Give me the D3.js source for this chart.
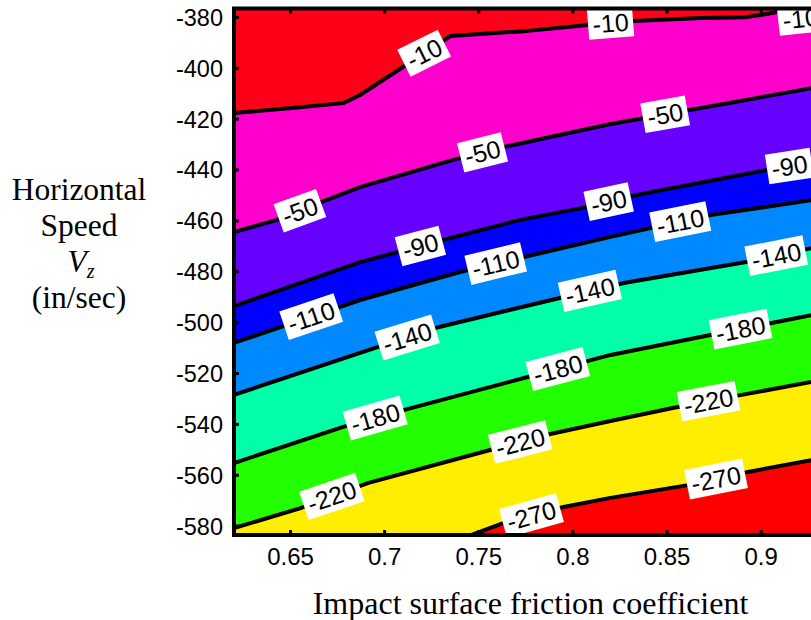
<!DOCTYPE html>
<html><head><meta charset="utf-8">
<script src="https://cdn.jsdelivr.net/npm/d3@7"></script>
<style>body{margin:0;background:#fff;overflow:hidden} svg{display:block}</style>
</head><body>
<svg id="chart" width="811" height="620"></svg>
<script>
// ---- data (friction coefficient, horizontal speed) ----
const levels = [-10, -50, -90, -110, -140, -180, -220, -270];
const contourM10 = [[0.62,-417.6],[0.651,-415.6],[0.678,-413.7],[0.687,-410.5],[0.735,-387.3],[0.776,-385.3],[0.808,-383.0],[0.832,-381.4],[0.868,-380.2],[0.892,-379.9],[0.906,-378.3],[0.921,-375.1]];
const contourM50 = [[0.62,-464.4],[0.643,-459.6],[0.669,-451.8],[0.687,-446.7],[0.736,-436.1],[0.763,-431.0],[0.820,-421.9],[0.862,-416.4],[0.927,-407.8],[0.935,-406.6]];
const contourM90 = [[0.62,-493.5],[0.687,-476.2],[0.731,-467.5],[0.772,-459.6],[0.808,-454.5],[0.831,-450.2],[0.903,-440.0],[0.927,-436.9],[0.935,-435.8]];
const contourM110 = [[0.62,-508.0],[0.687,-491.1],[0.740,-480.1],[0.774,-474.2],[0.820,-466.3],[0.873,-457.7],[0.927,-451.8],[0.935,-450.6]];
const contourM140 = [[0.62,-528.4],[0.687,-511.9],[0.729,-501.7],[0.793,-490.3],[0.827,-484.4],[0.892,-476.2],[0.927,-470.7],[0.935,-469.4]];
const contourM180 = [[0.62,-555.2],[0.678,-541.0],[0.710,-534.4],[0.776,-521.4],[0.820,-512.7],[0.873,-504.9],[0.927,-497.0],[0.935,-495.8]];
const contourM220 = [[0.62,-580.8],[0.655,-573.0],[0.691,-563.1],[0.756,-550.1],[0.788,-543.8],[0.820,-538.7],[0.853,-533.6],[0.889,-528.5],[0.927,-523.3],[0.935,-522.2]];
const contourM270 = [[0.735,-586.5],[0.749,-582.7],[0.763,-578.8],[0.795,-572.5],[0.820,-568.9],[0.862,-563.8],[0.893,-558.7],[0.927,-554.0],[0.935,-552.9]];
// label positions (friction values along each contour)
const labelsM10 = [0.721, 0.820, 0.921];
const labelsM50 = [0.655, 0.752, 0.849];
const labelsM90 = [0.719, 0.819, 0.915];
const labelsM110 = [0.661, 0.759, 0.857];
const labelsM140 = [0.712, 0.809, 0.908];
const labelsM180 = [0.695, 0.792, 0.889];
const labelsM220 = [0.672, 0.772, 0.872];
const labelsM270 = [0.778, 0.876];
const xTicks = [0.65, 0.7, 0.75, 0.8, 0.85, 0.9];
const yTicks = [-380, -400, -420, -440, -460, -480, -500, -520, -540, -560, -580];
const xTitle = "Impact surface friction coefficient";

// ---- style ----
const bandColors = ["#ff0019", "#ff00cc", "#6600ff", "#0000ff", "#0088ff", "#00ffa8", "#22ff00", "#ffee00", "#ff0000"];
const sans = "'Liberation Sans', Arial, Helvetica, sans-serif";
const serif = "'Liberation Serif', 'Times New Roman', serif";

const contourLines = [contourM10, contourM50, contourM90, contourM110, contourM140, contourM180, contourM220, contourM270];
const contourLabels = [labelsM10, labelsM50, labelsM90, labelsM110, labelsM140, labelsM180, labelsM220, labelsM270];
const contours = levels.map((lv, i) => ({level: lv, pts: contourLines[i], labels: contourLabels[i]}));

const svg = d3.select("#chart");
const x = d3.scaleLinear().domain([0.62, 0.935]).range([234, 827.1]);
const y = d3.scaleLinear().domain([-583.5, -376.5]).range([535, 8.5]);
const [x0, x1] = x.range(), [y0, y1] = [y.range()[1], y.range()[0]];

svg.append("defs").append("clipPath").attr("id", "plotclip")
  .append("rect").attr("x", x0).attr("y", y0).attr("width", x1 - x0).attr("height", y1 - y0);

const plot = svg.append("g").attr("clip-path", "url(#plotclip)");
plot.append("rect").attr("x", x0).attr("y", y0).attr("width", x1 - x0).attr("height", y1 - y0)
  .attr("fill", bandColors[0]);

const lineGen = d3.line().x(d => x(d[0])).y(d => y(d[1]));
const [dx0, dx1] = x.domain(), [dy0] = y.domain();
contours.forEach((c, i) => {
  const f = c.pts[0], l = c.pts[c.pts.length - 1];
  const poly = c.pts.concat([[dx1 + 0.05, l[1]], [dx1 + 0.05, dy0 - 30], [dx0 - 0.05, dy0 - 30], [dx0 - 0.05, f[1]]]);
  plot.append("path").attr("d", lineGen(poly) + "Z").attr("fill", bandColors[i + 1]).attr("stroke", "none");
});
contours.forEach(c => {
  plot.append("path").attr("d", lineGen(c.pts)).attr("fill", "none")
    .attr("stroke", "#000").attr("stroke-width", 4).attr("stroke-linejoin", "round");
});

function interp(pts, xv) {
  if (xv <= pts[0][0]) return pts[0][1];
  for (let i = 1; i < pts.length; i++) {
    if (xv <= pts[i][0]) {
      const t = (xv - pts[i-1][0]) / (pts[i][0] - pts[i-1][0]);
      return pts[i-1][1] + t * (pts[i][1] - pts[i-1][1]);
    }
  }
  return pts[pts.length - 1][1];
}

const labG = svg.append("g").attr("clip-path", "url(#plotclip)");
contours.forEach(c => {
  c.labels.forEach(lx => {
    const px = x(lx);
    let py = y(interp(c.pts, lx));
    const xa = lx - 0.03, xb = lx + 0.03;
    const ang = Math.atan2(y(interp(c.pts, xb)) - y(interp(c.pts, xa)), x(xb) - x(xa)) * 180 / Math.PI;
    py = Math.max(py, y0 + 10);
    const g = labG.append("g").attr("transform", `translate(${px},${py}) rotate(${ang})`);
    const r = g.append("rect").attr("fill", "#fff");
    const t = g.append("text").attr("text-anchor", "middle").attr("dy", "0.36em")
      .attr("font-family", sans).attr("font-size", 25).attr("fill", "#000").text(c.level);
    const w = t.node().getComputedTextLength() + 9, h = 30;
    r.attr("x", -w / 2).attr("y", -h / 2).attr("width", w).attr("height", h);
  });
});

// frame
svg.append("rect").attr("x", x0).attr("y", y0).attr("width", x1 - x0).attr("height", y1 - y0)
  .attr("fill", "none").attr("stroke", "#000").attr("stroke-width", 4);

// ticks (inward)
const tk = svg.append("g").attr("stroke", "#000").attr("stroke-width", 3);
xTicks.forEach(v => {
  tk.append("line").attr("x1", x(v)).attr("x2", x(v)).attr("y1", y1).attr("y2", y1 - 5);
  tk.append("line").attr("x1", x(v)).attr("x2", x(v)).attr("y1", y0).attr("y2", y0 + 5);
});
yTicks.forEach(v => {
  tk.append("line").attr("x1", x0).attr("x2", x0 + 5).attr("y1", y(v)).attr("y2", y(v));
});

// tick labels
svg.append("g").selectAll("text").data(xTicks).join("text")
  .attr("x", d => x(d)).attr("y", 565).attr("text-anchor", "middle")
  .attr("font-family", sans).attr("font-size", 24).text(d => d3.format("")(d));
svg.append("g").selectAll("text").data(yTicks).join("text")
  .attr("x", 223).attr("y", d => y(d)).attr("dy", "0.36em").attr("text-anchor", "end")
  .attr("font-family", sans).attr("font-size", 23.5).text(d => d);

// axis titles
svg.append("text").attr("x", 530.5).attr("y", 614).attr("text-anchor", "middle")
  .attr("font-family", serif).attr("font-size", 32).text(xTitle);
const yt = svg.append("g").attr("font-family", serif).attr("font-size", 31.5).attr("text-anchor", "middle");
yt.append("text").attr("x", 79).attr("y", 200).text("Horizontal");
yt.append("text").attr("x", 79).attr("y", 236).text("Speed");
const vz = yt.append("text").attr("x", 81).attr("y", 272);
vz.append("tspan").attr("font-style", "italic").text("V");
vz.append("tspan").attr("font-style", "italic").attr("font-size", 20).attr("dy", 6).text("z");
yt.append("text").attr("x", 79).attr("y", 308).text("(in/sec)");
</script>
</body></html>
